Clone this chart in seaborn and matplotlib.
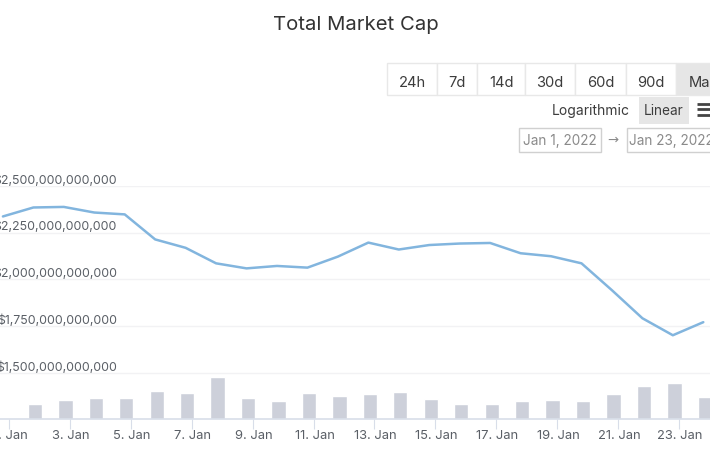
import matplotlib
matplotlib.use("Agg")
import matplotlib.pyplot as plt
from matplotlib.patches import Rectangle
from matplotlib.transforms import ScaledTranslation
import pandas as pd
import seaborn as sns

# --- data -------------------------------------------------------------
line_days = [0.8, 1.8, 2.8, 3.8, 4.8, 5.8, 6.8, 7.8, 8.8, 9.8, 10.8, 11.8,
             12.8, 13.8, 14.8, 15.8, 16.8, 17.8, 18.8, 19.8, 20.8, 21.8, 22.8, 23.8]
market_cap = [2.337, 2.385, 2.388, 2.358, 2.348, 2.214, 2.169, 2.086, 2.059, 2.072,
              2.063, 2.122, 2.197, 2.160, 2.184, 2.192, 2.195, 2.140, 2.124, 2.086,
              1.942, 1.792, 1.701, 1.771]
bar_days = [1.85, 2.85, 3.85, 4.85, 5.85, 6.85, 7.85, 8.85, 9.85, 10.85, 11.85, 12.85,
            13.85, 14.85, 15.85, 16.85, 17.85, 18.85, 19.85, 20.85, 21.85, 22.85, 23.85]
volume = [75, 95, 105, 105, 140, 130, 210, 105, 90, 130, 115, 125, 135,
          100, 75, 75, 90, 95, 90, 125, 165, 180, 110]
tick_days = list(range(1, 24, 2))
tick_labels = [f"{d}. Jan" for d in tick_days]
y_ticks = [1.5e12, 1.75e12, 2.0e12, 2.25e12, 2.5e12]
y_labels = ["$1,500,000,000,000", "$1,750,000,000,000", "$2,000,000,000,000",
            "$2,250,000,000,000", "$2,500,000,000,000"]
range_buttons = ["24h", "7d", "14d", "30d", "60d", "90d", "Max"]

df_line = pd.DataFrame({"day": line_days, "cap": [v * 1e12 for v in market_cap]})
df_bar = pd.DataFrame({"day": bar_days, "volume": [v * 1e9 for v in volume]})

# --- style ------------------------------------------------------------
sns.set_theme(style="white")
plt.rcParams["font.family"] = ["Inter", "DejaVu Sans"]
TXT = "#5a5f66"
W, H = 710, 458
fig = plt.figure(figsize=(W / 100, H / 100), dpi=100, facecolor="white")

# chart area: pixels x 0..710, y 186..419
ax2 = fig.add_axes([0, (H - 419) / H, 1, 233 / H])
ax = ax2.twinx()
ax.set_zorder(ax2.get_zorder() + 1)
ax.patch.set_visible(False)

sns.barplot(data=df_bar, x="day", y="volume", native_scale=True, width=0.47,
            color="#cdd0da", saturation=1, ax=ax2, zorder=2)
ax2.set_ylim(0, 233 * 5e9)
ax2.set_yticks([])
ax2.set_ylabel("")
ax2.set_xlabel("")

sns.lineplot(data=df_line, x="day", y="cap", color="#82b5de", linewidth=1.8, ax=ax, zorder=3)
ax.set_ylim(2.5e12 - 233 / 46.7 * 0.25e12, 2.5e12)
ax.set_xlim(0.704, 24.02)
ax2.set_xlim(0.704, 24.02)
ax.set_xlabel("")
ax.set_ylabel("")

# y axis labels sit inside the plot, just above the gridlines
ax.yaxis.tick_left()
ax.set_yticks(y_ticks, y_labels)
ax.tick_params(axis="y", length=0, pad=-117 * 0.72, labelsize=8.9, labelcolor=TXT)
shift = ScaledTranslation(0, 7 / 72 * 0.72, fig.dpi_scale_trans)
for lab in ax.get_yticklabels():
    lab.set_transform(lab.get_transform() + shift)
ax.grid(axis="y", color="#f2f2f4", linewidth=1)
ax.grid(axis="x", visible=False)
ax.xaxis.set_visible(False)

ax2.set_xticks(tick_days, tick_labels)
ax2.tick_params(axis="x", length=7.2, width=0.8, color="#d8dee9", pad=1,
                labelsize=9.3, labelcolor=TXT, bottom=True)
xshift = ScaledTranslation(1 / 72 * 0.72, 0, fig.dpi_scale_trans)
for lab in ax2.get_xticklabels():
    lab.set_transform(lab.get_transform() + xshift)

for a in (ax, ax2):
    for name, sp in a.spines.items():
        sp.set_visible(False)
ax2.spines["bottom"].set_visible(True)
ax2.spines["bottom"].set_color("#d8dee9")
ax2.spines["bottom"].set_linewidth(1.2)

# --- page furniture, in pixels ----------------------------------------
ui = fig.add_axes([0, 0, 1, 1], zorder=10)
ui.set_xlim(0, W)
ui.set_ylim(H, 0)
ui.axis("off")

ui.text(356, 25, "Total Market Cap", ha="center", va="center", fontsize=14.6, color="#333333")

edges = [387, 437, 477, 525, 575, 626, 676, 730]
for i, lab in enumerate(range_buttons):
    active = lab == "Max"
    ui.add_patch(Rectangle((edges[i], 63), edges[i + 1] - edges[i], 32,
                           facecolor="#e6e6e6" if active else "white",
                           edgecolor="#e8e8e8", linewidth=1))
    ui.text((edges[i] + edges[i + 1]) / 2, 83, lab, ha="center", va="center",
            fontsize=10.6, color="#3c3c3c")

ui.text(630, 111.5, "Logarithmic", ha="right", va="center", fontsize=10, color="#3c3c3c")
ui.add_patch(Rectangle((639, 97), 50, 27, facecolor="#e6e6e6", edgecolor="none"))
ui.text(664, 111, "Linear", ha="center", va="center", fontsize=9.8, color="#3c3c3c")
for y in (103.5, 109, 114.5):
    ui.plot([697, 711], [y, y], color="#444444", linewidth=2, solid_capstyle="butt")

for x0, wid, lab in [(519, 82, "Jan 1, 2022"), (627, 90, "Jan 23, 2022")]:
    ui.add_patch(Rectangle((x0, 128), wid, 24, facecolor="white", edgecolor="#d0d0d0", linewidth=1))
    ui.text(x0 + 41 if wid == 82 else x0 + 2, 141, lab, ha="center" if wid == 82 else "left",
            va="center", fontsize=9.8, color="#8a8a8a")
ui.text(613, 140, "\u2192", ha="center", va="center", fontsize=9.5, color="#8a8a8a",
        family=["DejaVu Sans"])

fig.savefig("out.png", dpi=100)
